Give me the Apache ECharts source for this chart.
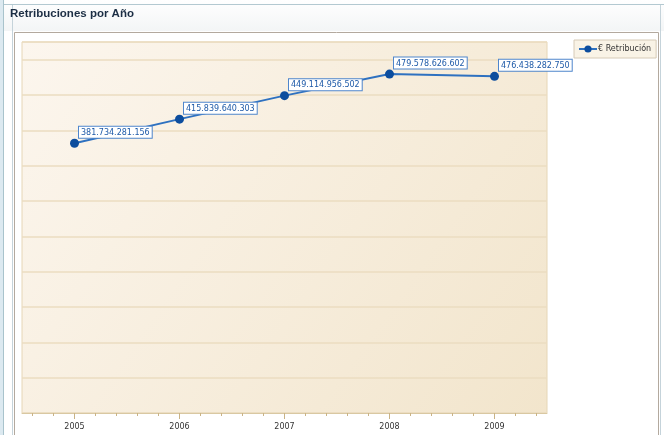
<!DOCTYPE html>
<html>
<head>
<meta charset="utf-8">
<script src="https://cdn.jsdelivr.net/npm/echarts@6/dist/echarts.min.js"></script>
<style>
  html, body { margin: 0; padding: 0; background: #ffffff; }
  #chart { width: 664px; height: 435px; }
</style>
</head>
<body>
<div id="chart"></div>
<script>
// Retribuciones anuales (euros)
const years = ['2005', '2006', '2007', '2008', '2009'];
const retribucion = [381734281156, 415839640303, 449114956502, 479578626602, 476438282750];
const seriesName = '€ Retribución';
const titleText = 'Retribuciones por Año';
// Subdivisiones del eje X (5 por año) para las marcas menores
const minorSlots = Array.from({ length: years.length * 5 }, (_, i) => String(i));

function formatEs(v) {
  return String(v).replace(/\B(?=(\d{3})+(?!\d))/g, '.');
}

const chart = echarts.init(document.getElementById('chart'), null, { renderer: 'canvas' });

const option = {
  animation: false,
  backgroundColor: '#ffffff',
  graphic: [
    // cabecera del panel
    { type: 'rect', shape: { x: 0, y: 0, width: 664, height: 31 }, style: {
        fill: new echarts.graphic.LinearGradient(0, 0, 0, 1, [
          { offset: 0, color: '#ffffff' }, { offset: 1, color: '#f3f5f6' }]) }, silent: true },
    { type: 'line', shape: { x1: 0, y1: 4.5, x2: 664, y2: 4.5 }, style: { stroke: '#b3c9d1', lineWidth: 1 } },
    { type: 'rect', shape: { x: 0, y: 0, width: 4, height: 435 }, style: { fill: '#dce9f0' } },
    { type: 'line', shape: { x1: 3.5, y1: 0, x2: 3.5, y2: 435 }, style: { stroke: '#a9c3cc', lineWidth: 1 } },
    { type: 'line', shape: { x1: 12.5, y1: 5, x2: 12.5, y2: 435 }, style: { stroke: '#c5d3da', lineWidth: 1 } },
    { type: 'line', shape: { x1: 660.5, y1: 5, x2: 660.5, y2: 435 }, style: { stroke: '#c5d3da', lineWidth: 1 } },
    // marco interior del gráfico
    { type: 'rect', shape: { x: 14.5, y: 32.5, width: 644, height: 410 }, style: { fill: '#ffffff', stroke: '#b3a99e', lineWidth: 1 }, z: -1 },
    { type: 'text', left: 10, top: 8, style: { text: titleText, font: 'bold 11.5px "Liberation Sans", Arial, sans-serif', fill: '#1c2e44' } }
  ],
  legend: {
    data: [seriesName],
    left: 574, top: 40,
    orient: 'vertical',
    itemWidth: 18, itemHeight: 9,
    itemGap: 2,
    padding: [5, 5, 5, 4],
    backgroundColor: '#f9f3e6',
    borderColor: '#d6cab6',
    borderWidth: 1,
    textStyle: { fontFamily: '"DejaVu Sans", sans-serif', fontSize: 8, color: '#333333', padding: [0, 0, 0, -4] }
  },
  grid: {
    left: 22, top: 42, right: 117, bottom: 22,
    show: true,
    borderWidth: 1,
    borderColor: '#e6d6b6',
    backgroundColor: new echarts.graphic.LinearGradient(0, 0, 1, 1, [
      { offset: 0, color: '#fcf6ee' },
      { offset: 1, color: '#f2e5cc' }
    ])
  },
  xAxis: [
    {
      type: 'category',
      data: years,
      boundaryGap: true,
      axisLine: { show: true, lineStyle: { color: '#d9c8a2', width: 1 } },
      axisTick: { show: true, alignWithLabel: true, length: 6, lineStyle: { color: '#c9b386' } },
      axisLabel: { color: '#333333', fontSize: 8, fontFamily: '"DejaVu Sans", sans-serif', margin: 10 },
      splitLine: { show: false }
    },
    {
      type: 'category',
      data: minorSlots,
      position: 'bottom',
      boundaryGap: true,
      axisLine: { show: false },
      axisTick: { show: true, alignWithLabel: true, interval: 0, length: 3, lineStyle: { color: '#c9b386' } },
      axisLabel: { show: false },
      splitLine: { show: false }
    }
  ],
  yAxis: {
    type: 'value',
    min: 0, max: 525e9, interval: 50e9,
    axisLine: { show: false },
    axisTick: { show: false },
    axisLabel: { show: false },
    splitLine: { show: true, lineStyle: { color: '#ebdcc1', width: 1.5 } }
  },
  series: [
    {
      name: seriesName,
      type: 'line',
      xAxisIndex: 0,
      data: retribucion,
      symbol: 'circle',
      symbolSize: 9,
      lineStyle: { color: '#2e71c0', width: 2 },
      itemStyle: { color: '#0c4d9e' },
      label: {
        show: true,
        position: [9, -12],
        formatter: p => formatEs(p.value),
        color: '#1e5aa8',
        fontSize: 8,
        fontFamily: '"DejaVu Sans", sans-serif',
        backgroundColor: '#ffffff',
        borderColor: '#4f86cc',
        borderWidth: 1,
        padding: [2, 2, 1, 2]
      },
      z: 5
    }
  ]
};

chart.setOption(option);
</script>
</body>
</html>
